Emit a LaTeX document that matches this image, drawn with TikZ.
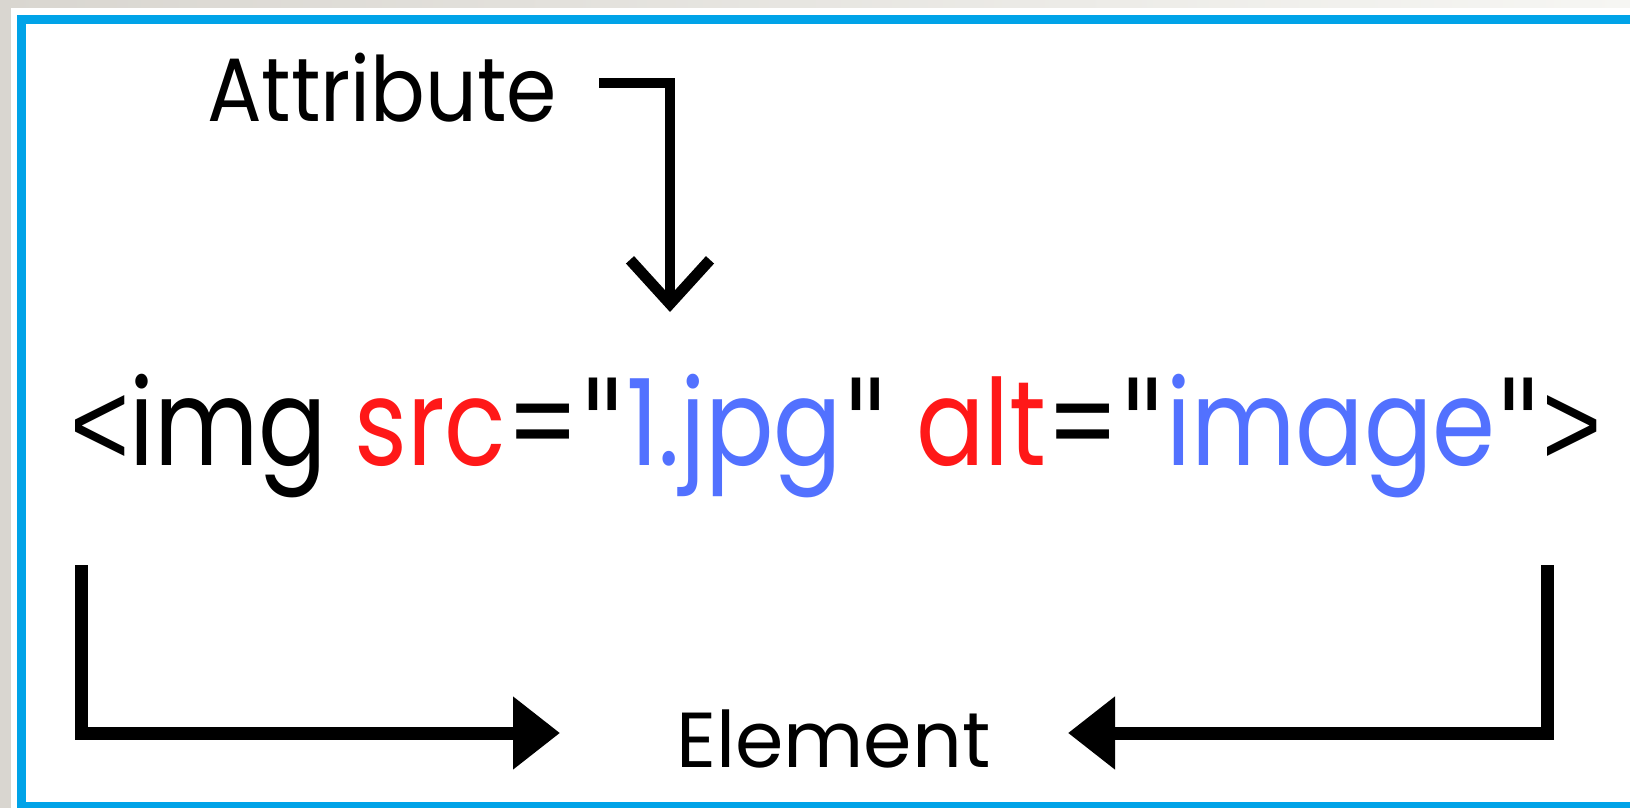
\documentclass[tikz,border=0pt]{standalone}
\usepackage{fontspec}
\setmainfont{Poppins}
\newfontfamily\quotefont{DejaVu Sans}
\newfontfamily\tagfont{Liberation Sans}
\usepackage{graphicx}
\usepackage{tikz}
\usetikzlibrary{arrows.meta}
\definecolor{bggray}{HTML}{D9D6D0}
\definecolor{bglight}{HTML}{F6F6F3}
\definecolor{frameblue}{HTML}{00A3E8}
\definecolor{attrred}{HTML}{FF1818}
\definecolor{valblue}{HTML}{5271FF}
\newcommand{\qm}{{\quotefont\symbol{34}}}
\newcommand{\lt}{{\tagfont<}}
\newcommand{\gt}{{\tagfont>}}
\tikzstyle{label} = [inner sep=0pt, outer sep=0pt, anchor=base west]
\tikzstyle{pointer} = [line width=5pt, line join=miter, -{Straight Barb[length=22pt,width=40pt,line width=5.5pt]}]
\tikzstyle{bracket} = [line width=6.5pt, line join=miter, -{Triangle[length=23.5pt,width=35pt]}]

\begin{document}
\begin{tikzpicture}[x=0.5pt, y=-0.5pt]
        \useasboundingbox (0,0) rectangle (1630,808);
        % Background and frame
        \shade[left color=bggray, right color=bglight] (0,0) rectangle (1630,808);
        \fill[white] (11,8) rectangle (1630,808);
        \fill[frameblue] (17,15) rectangle (1630,808);
        \fill[white] (26,24) rectangle (1630,802);

        % Text
        \node[label, font=\fontsize{45pt}{50pt}\selectfont] (attr) at (207,122) {\scalebox{0.9}[1]{Attribute}};
        \node[label, font=\fontsize{60pt}{66pt}\selectfont] (code) at (70,465)
          {\scalebox{0.845}[1]{\lt img \textcolor{attrred}{src}=\qm\textcolor{valblue}{1.jpg}\qm{} \textcolor{attrred}{alt}=\qm\textcolor{valblue}{image}\qm\gt}};
        \node[label, font=\fontsize{39pt}{44pt}\selectfont] (elem) at (676,767) {Element};

        % Corner points
        \coordinate (a1) at (599,83);
        \coordinate (a2) at (670,83);
        \coordinate (a3) at (670,312);
        \coordinate (l1) at (81,565);
        \coordinate (l2) at (81,733);
        \coordinate (l3) at (560,733);
        \coordinate (r1) at (1547,565);
        \coordinate (r2) at (1547,733);
        \coordinate (r3) at (1068,733);

        \draw[pointer] (a1) -- (a2) -- (a3);
        \draw[bracket] (l1) -- (l2) -- (l3);
        \draw[bracket] (r1) -- (r2) -- (r3);
\end{tikzpicture}
\end{document}
